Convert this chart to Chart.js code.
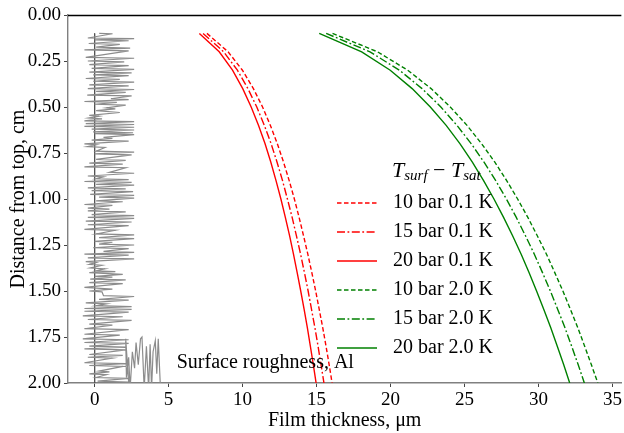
<!DOCTYPE html>
<html>
<head>
<meta charset="utf-8">
<script src="https://cdn.jsdelivr.net/npm/chart.js@4.4.1/dist/chart.umd.min.js"></script>
<style>
  html, body { margin: 0; padding: 0; background: #fff; }
  #wrap { width: 624px; height: 433px; }
</style>
</head>
<body>
<div id="wrap"><canvas class="film-chart"></canvas></div>
<script>
// distance from top (cm) where the film thickness was sampled
const distance = [0.1, 0.2, 0.3, 0.4, 0.5, 0.6, 0.7, 0.8, 0.9, 1.0,
                  1.1, 1.2, 1.3, 1.4, 1.5, 1.6, 1.7, 1.8, 1.9, 2.0];

// film thickness (um)
const red10 = [7.59, 9.02, 9.99, 10.73, 11.35, 11.88, 12.35, 12.77, 13.15, 13.50,
               13.82, 14.12, 14.41, 14.68, 14.94, 15.18, 15.42, 15.64, 15.85, 16.05];
const red15 = [7.33, 8.72, 9.65, 10.36, 10.96, 11.47, 11.93, 12.33, 12.70, 13.03,
               13.35, 13.64, 13.92, 14.18, 14.43, 14.66, 14.89, 15.10, 15.30, 15.50];
const red20 = [7.08, 8.42, 9.32, 10.01, 10.58, 11.08, 11.52, 11.91, 12.26, 12.59,
               12.89, 13.18, 13.44, 13.69, 13.93, 14.16, 14.38, 14.58, 14.78, 14.97];
const green10 = [16.08, 19.12, 21.16, 22.74, 24.04, 25.17, 26.16, 27.05, 27.85, 28.59,
                 29.28, 29.92, 30.54, 31.10, 31.65, 32.16, 32.66, 33.12, 33.57, 34.01];
const green15 = [15.65, 18.61, 20.60, 22.13, 23.40, 24.49, 25.46, 26.32, 27.11, 27.83,
                 28.50, 29.12, 29.72, 30.27, 30.80, 31.30, 31.79, 32.24, 32.68, 33.10];
const green20 = [15.18, 18.05, 19.98, 21.46, 22.69, 23.76, 24.70, 25.53, 26.29, 26.99,
                 27.64, 28.25, 28.83, 29.36, 29.87, 30.36, 30.83, 31.27, 31.70, 32.11];

const seriesLabels = ['10 bar 0.1 K', '15 bar 0.1 K', '20 bar 0.1 K',
                      '10 bar 2.0 K', '15 bar 2.0 K', '20 bar 2.0 K'];

// surface roughness profile, [x um, distance cm]
const roughness = [
  [0.31,0.100],[1.21,0.102],[-0.46,0.125],[2.67,0.128],[0.0,0.135],[2.3,0.14],[-0.4,0.155],[1.7,0.16],
  [0.1,0.175],[2.4,0.18],[-0.69,0.19],[2.3,0.195],[-0.6,0.23],[2.67,0.235],[-0.46,0.25],[2.0,0.255],
  [-0.36,0.27],[2.3,0.275],[-0.2,0.29],[2.67,0.295],[-0.36,0.31],[2.5,0.315],[-0.1,0.325],[2.3,0.33],
  [-0.6,0.345],[1.7,0.35],[-0.1,0.36],[2.67,0.365],[-0.36,0.38],[2.3,0.385],[-0.46,0.40],[2.67,0.405],
  [0.1,0.415],[2.1,0.42],[-0.5,0.435],[2.5,0.44],[1.1,0.455],[2.3,0.46],[-0.69,0.47],[1.5,0.475],
  [0.0,0.485],[2.1,0.49],[0.8,0.505],[1.4,0.51],[0.1,0.52],[1.7,0.53],[-0.36,0.545],[0.3,0.55],
  [-0.4,0.56],[0.5,0.565],[-0.69,0.575],[2.67,0.58],[-0.6,0.59],[2.67,0.595],[-0.69,0.605],[2.67,0.61],
  [-0.2,0.62],[2.67,0.625],[-0.1,0.635],[2.6,0.64],[0.0,0.645],[2.67,0.65],[0.6,0.665],[1.2,0.67],
  [-0.2,0.68],[2.3,0.685],[-0.69,0.70],[0.1,0.705],[-0.5,0.715],[0.7,0.72],[0.1,0.74],[2.67,0.745],
  [0.0,0.755],[2.5,0.76],[0.1,0.785],[2.1,0.79],[-0.36,0.805],[1.9,0.81],[-0.69,0.825],[2.1,0.83],
  [1.0,0.855],[2.67,0.86],[-0.46,0.875],[0.6,0.88],[0.1,0.89],[2.3,0.895],[-0.69,0.905],[2.5,0.91],
  [0.1,0.92],[2.67,0.925],[-0.46,0.94],[2.1,0.945],[-0.2,0.955],[2.6,0.96],[-0.3,0.975],[2.67,0.98],
  [0.3,0.99],[2.67,0.995],[0.1,1.01],[1.9,1.015],[-0.69,1.03],[1.2,1.035],[-0.46,1.05],[1.0,1.055],
  [-0.46,1.065],[2.1,1.07],[-0.2,1.085],[2.67,1.09],[-0.46,1.10],[2.67,1.105],[-0.6,1.12],[2.5,1.125],
  [-0.46,1.14],[2.3,1.145],[-0.69,1.165],[1.4,1.17],[0.1,1.19],[2.67,1.195],[0.3,1.21],[2.67,1.215],
  [0.0,1.23],[1.2,1.235],[0.3,1.245],[2.67,1.25],[-0.1,1.265],[2.3,1.27],[0.6,1.285],[2.67,1.29],
  [-0.69,1.30],[2.3,1.305],[-0.46,1.32],[2.67,1.325],[-0.6,1.34],[0.1,1.345],[-0.36,1.355],[0.5,1.36],
  [-0.3,1.375],[0.7,1.38],[0.1,1.39],[1.4,1.395],[-0.36,1.40],[1.9,1.41],[0.0,1.42],[1.2,1.425],
  [-0.3,1.435],[2.1,1.44],[-0.36,1.455],[1.9,1.46],[-0.69,1.48],[1.2,1.49],[-0.36,1.50],[0.5,1.505],
  [0.6,1.525],[2.67,1.53],[0.3,1.545],[2.3,1.55],[-0.6,1.565],[0.8,1.57],[0.1,1.58],[2.5,1.585],
  [-0.69,1.595],[2.5,1.60],[-0.69,1.61],[2.3,1.615],[-0.8,1.635],[1.9,1.64],[-0.46,1.655],[2.5,1.66],
  [-0.36,1.68],[1.2,1.685],[-0.69,1.705],[2.3,1.71],[-0.69,1.735],[1.7,1.74],[-0.8,1.76],[2.3,1.765],
  [-0.69,1.78],[2.3,1.785],[-0.36,1.80],[2.1,1.805],[-0.69,1.815],[2.1,1.82],[-0.36,1.845],[1.9,1.85],
  [-0.46,1.86],[1.2,1.865],[-0.69,1.89],[2.1,1.895],[-0.36,1.905],[1.9,1.91],[0.3,1.935],[1.0,1.94],
  [-0.36,1.95],[0.8,1.955],[0.1,1.97],[2.3,1.975],[0.2,1.99],[2.3,1.995],
  [2.1,1.76],[2.15,1.97],[2.3,1.86],[2.4,2.03],[2.55,1.83],[2.7,1.92],[2.8,1.78],[2.95,1.90],
  [3.1,1.76],[3.2,1.75],[3.35,2.03],[3.5,1.80],[3.65,2.03],[3.75,1.79],[3.85,2.03],[3.95,1.83],
  [4.1,1.77],[4.2,1.95],[4.3,1.76],[4.45,2.03]
];

const xTicks = [0, 5, 10, 15, 20, 25, 30, 35];
const yTicks = [0, 0.25, 0.5, 0.75, 1.0, 1.25, 1.5, 1.75, 2.0];

const SERIF = '"Liberation Serif", "DejaVu Serif", serif';
const DASHED = [4.5, 2.5];
const DASHDOT = [8, 2.5, 1.8, 2.5];

function curve(values) {
    return values.map((v, i) => ({ x: v, y: distance[i] }));
}

function lineSet(label, values, color, dash) {
    return {
        label: label,
        data: curve(values),
        borderColor: color,
        backgroundColor: color,
        borderWidth: 1.4,
        borderDash: dash,
        showLine: true,
        pointRadius: 0,
        inLegend: true
    };
}

// legend with subscripted title, drawn inside the plot
const innerLegend = {
    id: 'innerLegend',
    afterDatasetsDraw(chart) {
        const ctx = chart.ctx;
        ctx.save();
        ctx.textBaseline = 'middle';
        // title: T_surf - T_sat
        let x = 392, y = 171;
        const parts = [
            ['italic 22px ' + SERIF, 'T', 0],
            ['italic 15px ' + SERIF, 'surf', 5],
            ['22px ' + SERIF, ' \u2212 ', 0],
            ['italic 22px ' + SERIF, 'T', 0],
            ['italic 15px ' + SERIF, 'sat', 5]
        ];
        ctx.fillStyle = '#000';
        parts.forEach(p => {
            ctx.font = p[0];
            ctx.fillText(p[1], x, y + p[2]);
            x += ctx.measureText(p[1]).width;
        });

        const rows = chart.data.datasets.filter(ds => ds.inLegend);
        rows.forEach((ds, i) => {
            const ry = 203 + i * 29;
            ctx.strokeStyle = ds.borderColor;
            ctx.lineWidth = ds.borderWidth;
            ctx.setLineDash(ds.borderDash || []);
            ctx.beginPath();
            ctx.moveTo(337, ry);
            ctx.lineTo(377, ry);
            ctx.stroke();
            ctx.setLineDash([]);
            ctx.font = '20px ' + SERIF;
            ctx.fillStyle = '#000';
            ctx.fillText(ds.label, 393, ry);
        });

        // annotation placed in data units
        const xs = chart.scales.x, ys = chart.scales.y;
        ctx.font = '20px ' + SERIF;
        ctx.fillText('Surface roughness, Al', xs.getPixelForValue(5.55), ys.getPixelForValue(1.89));

        // top spine
        const a = chart.chartArea;
        ctx.strokeStyle = '#000';
        ctx.lineWidth = 1.5;
        ctx.beginPath();
        ctx.moveTo(a.left, Math.round(a.top) + 0.5);
        ctx.lineTo(a.right, Math.round(a.top) + 0.5);
        ctx.stroke();
        ctx.restore();
    }
};

function initializeFilmChart() {
    const ctx = document.querySelector('.film-chart').getContext('2d');
    return new Chart(ctx, {
        type: 'scatter',
        data: {
            datasets: [
                {
                    label: 'roughness',
                    data: roughness.map(p => ({ x: p[0], y: p[1] })),
                    borderColor: '#8c8c8c',
                    borderWidth: 1.2,
                    showLine: true,
                    pointRadius: 0
                },
                {
                    label: 'zero',
                    data: [{ x: 0, y: 0.1 }, { x: 0, y: 2.0 }],
                    borderColor: '#555555',
                    borderWidth: 1,
                    showLine: true,
                    pointRadius: 0
                },
                lineSet(seriesLabels[0], red10, '#ff0000', DASHED),
                lineSet(seriesLabels[1], red15, '#ff0000', DASHDOT),
                lineSet(seriesLabels[2], red20, '#ff0000', []),
                lineSet(seriesLabels[3], green10, '#008000', DASHED),
                lineSet(seriesLabels[4], green15, '#008000', DASHDOT),
                lineSet(seriesLabels[5], green20, '#008000', [])
            ]
        },
        options: {
            responsive: true,
            maintainAspectRatio: false,
            animation: false,
            layout: { padding: { top: 15, right: 2, left: 7, bottom: 0 } },
            scales: {
                x: {
                    type: 'linear',
                    min: -1.8,
                    max: 35.6,
                    afterBuildTicks: scale => { scale.ticks = xTicks.map(v => ({ value: v })); },
                    afterFit: scale => { scale.height = 50; },
                    border: { display: true, color: '#808080', width: 1.6 },
                    grid: { display: true, drawOnChartArea: false, drawTicks: true, tickLength: 4, color: '#444' },
                    ticks: {
                        color: '#000',
                        padding: 2,
                        maxRotation: 0,
                        font: { family: SERIF, size: 19 },
                        callback: v => String(v)
                    },
                    title: {
                        display: true,
                        text: 'Film thickness, \u03bcm',
                        color: '#000',
                        padding: { top: 0, bottom: 0 },
                        font: { family: SERIF, size: 20 }
                    }
                },
                y: {
                    type: 'linear',
                    reverse: true,
                    min: 0,
                    max: 2,
                    afterBuildTicks: scale => { scale.ticks = yTicks.map(v => ({ value: v })); },
                    afterFit: scale => { scale.width = 61; },
                    border: { display: true, color: '#808080', width: 1.4 },
                    grid: { display: true, drawOnChartArea: false, drawTicks: true, tickLength: 4, color: '#444' },
                    ticks: {
                        color: '#000',
                        padding: 3,
                        font: { family: SERIF, size: 19 },
                        callback: v => Number(v).toFixed(2)
                    },
                    title: {
                        display: true,
                        text: 'Distance from top, cm',
                        color: '#000',
                        padding: { top: 0, bottom: 0 },
                        font: { family: SERIF, size: 20 }
                    }
                }
            },
            plugins: {
                legend: { display: false },
                tooltip: { enabled: false }
            }
        },
        plugins: [innerLegend]
    });
}

initializeFilmChart();
</script>
</body>
</html>
